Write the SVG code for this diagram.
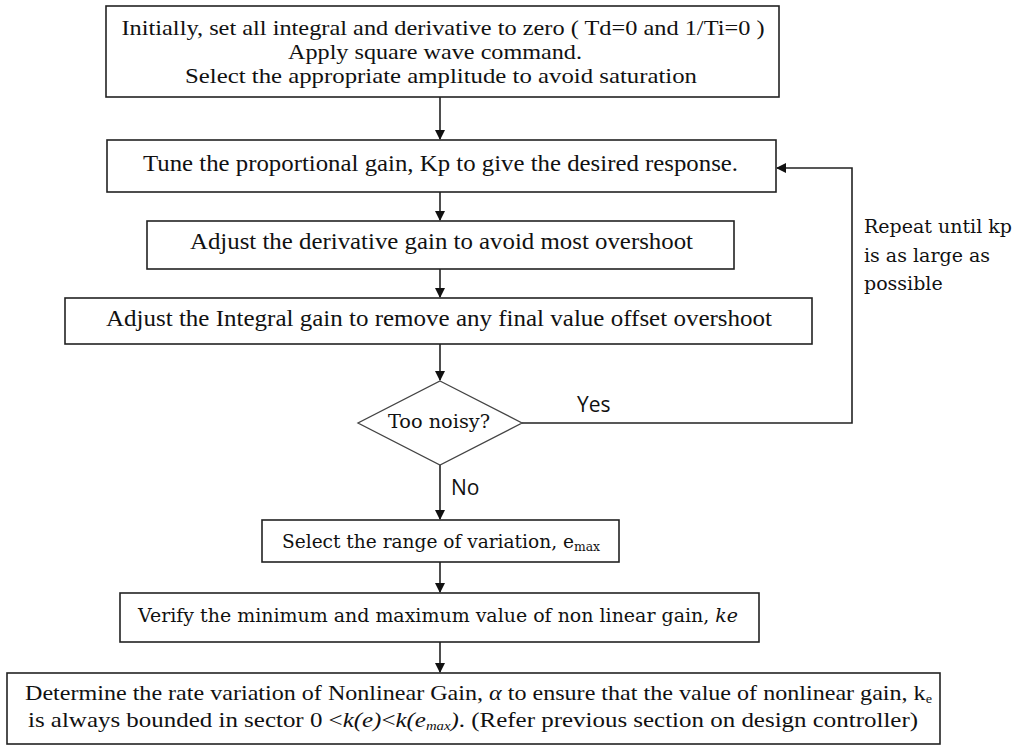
<svg xmlns="http://www.w3.org/2000/svg" width="1018" height="746" viewBox="0 0 1018 746">
<style>
.box{fill:#fff;stroke:#222;stroke-width:1.6}
.dia{fill:#fff;stroke:#444;stroke-width:1.3}
.t{font-family:"Liberation Serif","Times New Roman",serif;font-size:23px;fill:#111}
.t1{font-family:"Liberation Serif","Times New Roman",serif;font-size:22px;fill:#111}
.m{text-anchor:middle}
.c{font-family:"DejaVu Serif","Liberation Serif",serif;font-size:18px;fill:#111}
.r{font-family:"DejaVu Serif","Liberation Serif",serif;font-size:19px;fill:#111}
.s{font-family:"Open Sans","Liberation Sans",sans-serif;font-size:21px;fill:#111}
.ln{fill:none;stroke:#222;stroke-width:1.6}
</style>
<defs>
<marker id="ah" markerWidth="10" markerHeight="10" refX="9" refY="5" orient="auto" markerUnits="userSpaceOnUse">
<path d="M0,0 L10,5 L0,10 Z" fill="#111"/>
</marker>
</defs>
<g id="connectors">
<path class="ln" d="M440,97 V139" marker-end="url(#ah)"/>
<path class="ln" d="M440,192 V220" marker-end="url(#ah)"/>
<path class="ln" d="M440,269 V297" marker-end="url(#ah)"/>
<path class="ln" d="M440,344 V380" marker-end="url(#ah)"/>
<path class="ln" d="M440,465 V519" marker-end="url(#ah)"/>
<path class="ln" d="M440,562 V592" marker-end="url(#ah)"/>
<path class="ln" d="M440,642 V672" marker-end="url(#ah)"/>
<path class="ln" d="M522,423 H852 V168 H777" marker-end="url(#ah)"/>
<text class="s" x="577" y="412">Yes</text>
<text class="s" x="451" y="495">No</text>
<text class="r" x="864" y="233">Repeat until kp</text>
<text class="r" x="864" y="262">is as large as</text>
<text class="r" x="864" y="290">possible</text>
</g>
<g id="n1">
<rect class="box" x="106" y="6" width="673" height="91"/>
<text class="t1 m" x="443" y="35" textLength="643" lengthAdjust="spacingAndGlyphs">Initially, set all integral and derivative to zero ( Td=0 and 1/Ti=0 )</text>
<text class="t1 m" x="435" y="59" textLength="294" lengthAdjust="spacingAndGlyphs">Apply square wave command.</text>
<text class="t1 m" x="441" y="83" textLength="512" lengthAdjust="spacingAndGlyphs">Select the appropriate amplitude to avoid saturation</text>
</g>
<g id="n2">
<rect class="box" x="107" y="140" width="669" height="52"/>
<text class="t" x="143" y="171" textLength="595" lengthAdjust="spacingAndGlyphs">Tune the proportional gain, Kp to give the desired response.</text>
</g>
<g id="n3">
<rect class="box" x="147" y="221" width="587" height="48"/>
<text class="t" x="190" y="249" textLength="503" lengthAdjust="spacingAndGlyphs">Adjust the derivative gain to avoid most overshoot</text>
</g>
<g id="n4">
<rect class="box" x="65" y="298" width="747" height="46"/>
<text class="t" x="106" y="326" textLength="666" lengthAdjust="spacingAndGlyphs">Adjust the Integral gain to remove any final value offset overshoot</text>
</g>
<g id="n5">
<polygon class="dia" points="440,381 522,423 440,465 358,423"/>
<text class="c m" x="439" y="428" textLength="102" lengthAdjust="spacingAndGlyphs">Too noisy?</text>
</g>
<g id="n6">
<rect class="box" x="262" y="520" width="357" height="42"/>
<text class="c" x="282" y="548" textLength="318" lengthAdjust="spacingAndGlyphs">Select the range of variation, e<tspan font-size="12" dy="3">max</tspan></text>
</g>
<g id="n7">
<rect class="box" x="120" y="593" width="639" height="49"/>
<text class="c" x="138" y="622" textLength="600" lengthAdjust="spacingAndGlyphs">Verify the minimum and maximum value of non linear gain, <tspan font-style="italic">ke</tspan></text>
</g>
<g id="n8">
<rect class="box" x="7" y="673" width="933" height="71"/>
<text class="t1" x="25" y="700" textLength="907" lengthAdjust="spacingAndGlyphs">Determine the rate variation of Nonlinear Gain, <tspan font-style="italic">α</tspan> to ensure that the value of nonlinear gain, k<tspan font-size="13" dy="3">e</tspan></text>
<text class="t1" x="28" y="727" textLength="890" lengthAdjust="spacingAndGlyphs">is always bounded in sector 0 &lt;<tspan font-style="italic">k(e)</tspan>&lt;<tspan font-style="italic">k(e<tspan font-size="13" dy="3">max</tspan><tspan dy="-3">)</tspan></tspan>. (Refer previous section on design controller)</text>
</g>
</svg>
